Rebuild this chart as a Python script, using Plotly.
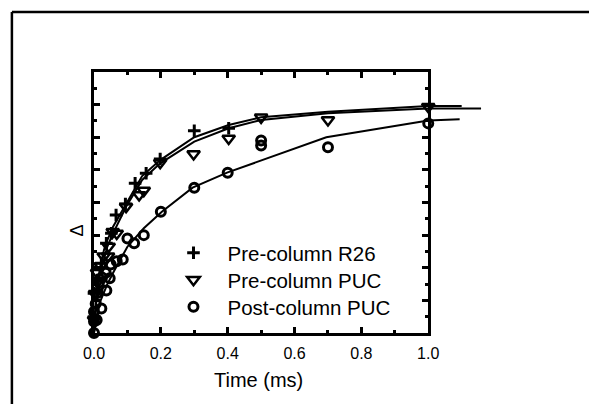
import plotly.graph_objects as go

# ---------------- data ----------------
r26_t = [0.0, 0.0, 0.01, 0.022, 0.037, 0.052, 0.066, 0.094, 0.123, 0.156, 0.198, 0.3, 0.403]
r26_y = [0.10, 0.243, 0.325, 0.427, 0.55, 0.611, 0.723, 0.791, 0.918, 0.979, 1.067, 1.24, 1.255]

pre_t = [0.0, 0.003, 0.009, 0.013, 0.02, 0.029, 0.042, 0.044, 0.056, 0.068, 0.096, 0.135, 0.149,
         0.198, 0.298, 0.403, 0.5, 0.7, 1.0]
pre_y = [0.08, 0.24, 0.37, 0.32, 0.41, 0.47, 0.47, 0.53, 0.62, 0.61, 0.774, 0.846, 0.873,
         1.044, 1.097, 1.193, 1.322, 1.306, 1.387]

post_t = [0.0, 0.0, 0.0, 0.005, 0.008, 0.01, 0.015, 0.022, 0.024, 0.035, 0.037, 0.047, 0.05,
          0.068, 0.086, 0.1, 0.12, 0.149, 0.2, 0.3, 0.4, 0.5, 0.5, 0.7, 1.0, 1.1]
post_y = [0.0, 0.07, 0.13, 0.18, 0.08, 0.245, 0.31, 0.15, 0.34, 0.37, 0.26, 0.335, 0.42,
          0.44, 0.45, 0.58, 0.55, 0.60, 0.744, 0.891, 0.983, 1.15, 1.18, 1.138, 1.285, 1.285]

fit_r26_t = [0, 0.005, 0.01, 0.02, 0.03, 0.04, 0.057, 0.096, 0.144, 0.198, 0.3, 0.403, 0.5, 0.7, 1.0, 1.1]
fit_r26_y = [0, 0.2, 0.3, 0.42, 0.51, 0.57, 0.652, 0.791, 0.962, 1.06, 1.2, 1.275, 1.322, 1.357, 1.392, 1.392]

fit_pre_t = [0, 0.005, 0.01, 0.02, 0.03, 0.04, 0.057, 0.096, 0.144, 0.198, 0.3, 0.403, 0.5, 0.7, 1.0, 1.158]
fit_pre_y = [0, 0.17, 0.27, 0.38, 0.46, 0.53, 0.611, 0.774, 0.938, 1.04, 1.173, 1.255, 1.306, 1.347, 1.377, 1.377]

fit_post_t = [0, 0.01, 0.02, 0.04, 0.06, 0.076, 0.1, 0.149, 0.203, 0.295, 0.398, 0.695, 1.0, 1.094]
fit_post_y = [0, 0.12, 0.2, 0.3, 0.38, 0.437, 0.529, 0.642, 0.744, 0.891, 0.983, 1.2, 1.302, 1.31]

x_tick_vals = [0.0, 0.2, 0.4, 0.6, 0.8, 1.0]
x_tick_text = ["0.0", "0.2", "0.4", "0.6", "0.8", "1.0"]

# ---------------- layout geometry (page pixels; body margin removed) ----------------
W, H = 589, 404
ML, MT = 94, 72
MB = H - 333
MR = 10
PW = W - ML - MR
PH = H - MT - MB
X_SPAN = 342.0  # px for 1.0 ms
FONT = "Arial, Liberation Sans, sans-serif"

def px_x(px):
    return (px - ML) / PW

def px_y(py):
    return (H - MB - py) / PH

fig = go.Figure()

fig.add_trace(go.Scatter(x=r26_t, y=r26_y, mode="markers", name="Pre-column R26",
                         marker=dict(symbol="cross-thin-open", size=9, color="black",
                                     line=dict(color="black", width=3)),
                         cliponaxis=False, legend="legend"))
fig.add_trace(go.Scatter(x=pre_t, y=pre_y, mode="markers", name="Pre-column PUC",
                         marker=dict(symbol="triangle-down-open", size=11, color="black",
                                     line=dict(color="black", width=2.5)),
                         cliponaxis=False, legend="legend2"))
fig.add_trace(go.Scatter(x=post_t, y=post_y, mode="markers", name="Post-column PUC",
                         marker=dict(symbol="circle-open", size=9, color="black",
                                     line=dict(color="black", width=3)),
                         cliponaxis=False, legend="legend3"))

line_style = dict(color="black", width=2)
for tx, ty in [(fit_r26_t, fit_r26_y), (fit_pre_t, fit_pre_y), (fit_post_t, fit_post_y)]:
    fig.add_trace(go.Scatter(x=tx, y=ty, mode="lines", line=line_style, showlegend=False,
                             xaxis="x2", yaxis="y2", hoverinfo="skip"))

axis_common = dict(showline=True, linecolor="black", linewidth=2.5, mirror="ticks",
                   ticks="inside", tickcolor="black", tickwidth=2.5, ticklen=6,
                   showgrid=False, zeroline=False)

def legend_at(row_y):
    return dict(x=px_x(161), y=px_y(row_y), xanchor="left", yanchor="middle",
                font=dict(size=20.5, family=FONT), itemwidth=58,
                bgcolor="rgba(0,0,0,0)", borderwidth=0)

fig.update_layout(
    width=W, height=H,
    margin=dict(l=ML, r=MR, t=MT, b=MB),
    paper_bgcolor="white", plot_bgcolor="rgba(0,0,0,0)",
    font=dict(family=FONT, color="black"),
    xaxis=dict(domain=[0, X_SPAN / PW], range=[0, 1.0], anchor="y",
               tickvals=x_tick_vals, ticktext=x_tick_text,
               tickfont=dict(size=16, family=FONT), ticklabelstandoff=4,
               minor=dict(ticks="inside", dtick=0.1, ticklen=3, tickwidth=2.5, tickcolor="black"),
               **axis_common),
    yaxis=dict(domain=[0, 1], range=[0, 1.6], anchor="x", dtick=0.2, showticklabels=False,
               minor=dict(ticks="inside", dtick=0.1, ticklen=3, tickwidth=2.5, tickcolor="black"),
               **axis_common),
    xaxis2=dict(domain=[0, 1.2 * X_SPAN / PW], range=[0, 1.2], anchor="y2", visible=False),
    yaxis2=dict(domain=[0, 1], range=[0, 1.6], anchor="x2", visible=False),
    showlegend=True,
    legend=legend_at(253),
    legend2=legend_at(280),
    legend3=legend_at(307),
    hovermode=False,
    annotations=[
        dict(text="Time (ms)", x=px_x(262), y=px_y(380), xref="paper", yref="paper",
             showarrow=False, font=dict(size=20, family=FONT), xanchor="center", yanchor="middle"),
        dict(text="Δ", x=px_x(77), y=px_y(230), xref="paper", yref="paper", textangle=-90,
             showarrow=False, font=dict(size=18, family=FONT), xanchor="center", yanchor="middle"),
    ],
    shapes=[
        dict(type="line", xref="paper", yref="paper", x0=px_x(10), x1=px_x(700),
             y0=px_y(12), y1=px_y(12), line=dict(color="black", width=2.5)),
        dict(type="line", xref="paper", yref="paper", x0=px_x(10), x1=px_x(10),
             y0=px_y(12), y1=px_y(500), line=dict(color="black", width=2.5)),
    ],
)

fig.write_html("out.html", config={"displayModeBar": False},
               post_script="document.body.style.margin='0';document.body.style.overflow='hidden';")
